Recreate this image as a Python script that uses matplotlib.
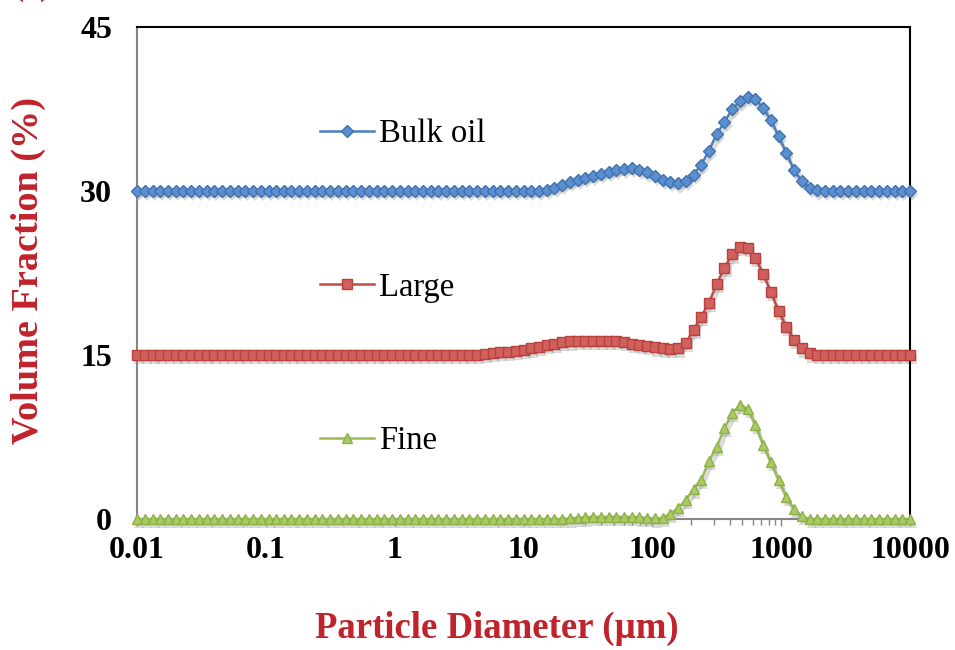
import matplotlib
matplotlib.use('Agg')
import matplotlib.pyplot as plt
import matplotlib.transforms as mtransforms
from matplotlib.ticker import LogLocator, FixedLocator, NullFormatter
import numpy as np

# size classes of the analyser, um
diameter = [
    0.0100, 0.0115, 0.0132, 0.0151, 0.0174, 0.0200, 0.0229, 0.0263, 0.0302, 0.0347,
    0.0398, 0.0457, 0.0525, 0.0603, 0.0692, 0.0794, 0.0912,
    0.105, 0.120, 0.138, 0.158, 0.182, 0.209, 0.240, 0.275, 0.316, 0.363,
    0.417, 0.479, 0.550, 0.631, 0.724, 0.832, 0.955,
    1.096, 1.259, 1.445, 1.660, 1.905, 2.188, 2.512, 2.884, 3.311, 3.802,
    4.365, 5.012, 5.754, 6.607, 7.586, 8.710,
    10.00, 11.48, 13.18, 15.14, 17.38, 19.95, 22.91, 26.30, 30.20, 34.67,
    39.81, 45.71, 52.48, 60.26, 69.18, 79.43, 91.20,
    104.7, 120.2, 138.0, 158.5, 182.0, 208.9, 239.9, 275.4, 316.2, 363.1,
    416.9, 478.6, 549.5, 631.0, 724.4, 831.8, 955.0,
    1096, 1259, 1445, 1660, 1905, 2188, 2512, 2884, 3311, 3802,
    4365, 5012, 5754, 6607, 7586, 8710,
    10000,
]

# volume fraction (%), before the vertical offset
bulk_oil = [0.0] * 53 + [
    0.1, 0.3, 0.55, 0.8, 1.0, 1.2, 1.4, 1.6, 1.75, 1.9,
    2.05, 2.1, 1.95, 1.7, 1.4, 1.05, 0.8, 0.7, 0.95, 1.5,
    2.4, 3.7, 5.2, 6.3, 7.5, 8.2, 8.6, 8.4, 7.6, 6.5,
    5.0, 3.5, 1.9, 0.9, 0.3, 0.05] + [0.0] * 12
large = [0.0] * 45 + [
    0.1, 0.2, 0.25, 0.3, 0.4, 0.5, 0.6, 0.75, 0.9, 1.05,
    1.2, 1.25, 1.3, 1.3, 1.3, 1.3, 1.3, 1.3, 1.2, 1.05,
    0.95, 0.85, 0.7, 0.6, 0.55, 0.6, 1.1, 2.3, 3.5, 4.8,
    6.5, 8.0, 9.2, 9.9, 9.8, 8.9, 7.4, 5.8, 4.0, 2.6,
    1.4, 0.6, 0.15] + [0.0] * 13
fine = [0.0] * 56 + [
    0.05, 0.1, 0.15, 0.2, 0.2, 0.2, 0.2, 0.2, 0.2, 0.15,
    0.1, 0.05, 0.1, 0.5, 1.0, 1.75, 2.7, 3.6, 5.3, 6.6,
    8.3, 9.7, 10.4, 10.1, 8.6, 6.8, 5.2, 3.6, 2.0, 0.9,
    0.25] + [0.0] * 14

labels = ['Bulk oil', 'Large', 'Fine']
offsets = [30, 15, 0]
y_ticks = [0, 15, 30, 45]
x_ticks = [0.01, 0.1, 1, 10, 100, 1000, 10000]
x_tick_labels = ['0.01', '0.1', '1', '10', '100', '1000', '10000']

red = '#C0232B'
serif = ['Liberation Serif', 'DejaVu Serif']

fig = plt.figure(figsize=(9.55, 6.5), dpi=100)
ax = fig.add_axes([137 / 955, 1 - 519 / 650, 773 / 955, 492 / 650])

styles = [
    dict(color='#4A7EBB', marker='D', markersize=6.5, markerfacecolor='#5B8FD0', markeredgecolor='#3F72B0'),
    dict(color='#BE4B48', marker='s', markersize=7, markerfacecolor='#D0605C', markeredgecolor='#B8403D'),
    dict(color='#98B954', marker='^', markersize=7.5, markerfacecolor='#A8CC60', markeredgecolor='#8DB04A'),
]

# soft drop shadow like the spreadsheet rendering
shadow = ax.transData + mtransforms.ScaledTranslation(1.5 / 72, -3 / 72, fig.dpi_scale_trans)

for vals, off, lab, st in zip([bulk_oil, large, fine], offsets, labels, styles):
    y = np.array(vals) + off
    ax.plot(diameter, y, color='#999999', alpha=0.35, lw=3, marker=st['marker'],
            markersize=st['markersize'], markeredgewidth=0, transform=shadow, zorder=2, clip_on=False)
    ax.plot(diameter, y, lw=1.8, markeredgewidth=1.0, label=lab, zorder=3, clip_on=False, **st)

ax.set_xscale('log')
ax.set_xlim(0.01, 10000)
ax.set_ylim(0, 45)
ax.xaxis.set_major_locator(FixedLocator(x_ticks))
ax.set_xticklabels(x_tick_labels)
ax.xaxis.set_minor_locator(LogLocator(base=10, subs=np.arange(2, 10), numticks=20))
ax.xaxis.set_minor_formatter(NullFormatter())
ax.set_yticks(y_ticks)

for lab in ax.get_xticklabels() + ax.get_yticklabels():
    lab.set_fontfamily(serif)
    lab.set_fontweight('bold')
    lab.set_fontsize(23)

ax.tick_params(axis='x', which='major', direction='out', length=5, width=1, color='#868686', pad=7)
ax.tick_params(axis='x', which='minor', direction='out', length=4, width=1, color='#868686')
ax.tick_params(axis='y', length=0, pad=18)

ax.spines['left'].set_color('#868686')
ax.spines['bottom'].set_color('#868686')
ax.spines['top'].set_color('black')
ax.spines['right'].set_color('black')
for s in ax.spines.values():
    s.set_linewidth(1.5)

fig.text(497 / 955, 1 - 628 / 650, 'Particle Diameter (\u00b5m)', color=red, fontsize=26.5,
         fontweight='bold', family=serif, ha='center', va='center')
fig.text(28 / 955, 1 - 270 / 650, 'Volume Fraction (%)', color=red, fontsize=27.5,
         fontweight='bold', family=serif, ha='center', va='center', rotation=90)
fig.text(12 / 955, 1 + 13 / 650, '(a)', color=red, fontsize=24,
         fontweight='bold', family=serif, ha='left', va='center')

ax.legend(loc='upper left', bbox_to_anchor=(320 / 955, 1 - 119 / 650), bbox_transform=fig.transFigure,
          frameon=False, prop={'family': serif, 'size': 23.5}, labelspacing=3.76,
          handlelength=1.65, handletextpad=0.15, borderpad=0, borderaxespad=0)

fig.savefig('out.png', dpi=100)
